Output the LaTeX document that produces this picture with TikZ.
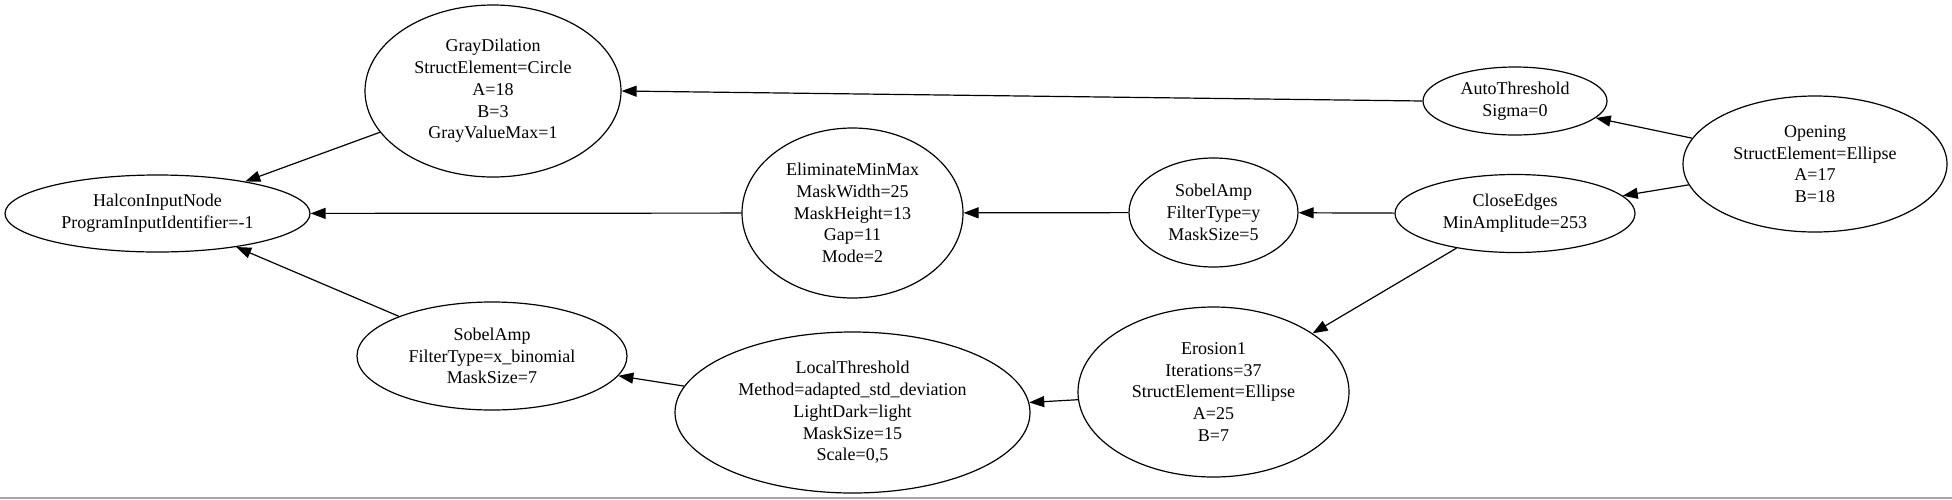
\documentclass[tikz,border=0pt]{standalone}
\usepackage{fontspec}
\setmainfont{Liberation Serif}
\usetikzlibrary{shapes.geometric,arrows.meta}
\begin{document}
\begin{tikzpicture}[x=1pt,y=-1pt,
  nd/.style={draw, ellipse, line width=1.2pt, inner sep=0pt, align=center,
             font=\fontsize{18}{21.7}\selectfont},
  ar/.style={line width=1.2pt, -{Triangle[length=15pt,width=11pt]}}]
\useasboundingbox (0,0) rectangle (1952,499);
\node[nd, minimum width=305pt, minimum height=77pt] (halcon) at (157.5,213.5)
  {HalconInputNode\\ProgramInputIdentifier=-1};
\node[nd, minimum width=256pt, minimum height=172pt] (gray) at (493,91)
  {GrayDilation\\StructElement=Circle\\A=18\\B=3\\GrayValueMax=1};
\node[nd, minimum width=221pt, minimum height=170pt] (elim) at (852.5,213)
  {EliminateMinMax\\MaskWidth=25\\MaskHeight=13\\Gap=11\\Mode=2};
\node[nd, minimum width=169pt, minimum height=109pt] (sobely) at (1213.5,212.5)
  {SobelAmp\\FilterType=y\\MaskSize=5};
\node[nd, minimum width=240pt, minimum height=78pt] (close) at (1515,213.5)
  {CloseEdges\\MinAmplitude=253};
\node[nd, minimum width=184pt, minimum height=68pt] (auto) at (1515,101)
  {AutoThreshold\\Sigma=0};
\node[nd, minimum width=264pt, minimum height=136pt] (opening) at (1815,164)
  {Opening\\StructElement=Ellipse\\A=17\\B=18};
\node[nd, minimum width=271pt, minimum height=170pt] (erosion) at (1213.5,392)
  {Erosion1\\Iterations=37\\StructElement=Ellipse\\A=25\\B=7};
\node[nd, minimum width=355pt, minimum height=161pt] (local) at (852.5,412.5)
  {LocalThreshold\\Method=adapted\_std\_deviation\\LightDark=light\\MaskSize=15\\Scale=0,5};
\node[nd, minimum width=270pt, minimum height=108pt] (sobelx) at (492,356)
  {SobelAmp\\FilterType=x\_binomial\\MaskSize=7};

\draw[ar] (gray) -- (halcon);
\draw[ar] (elim) -- (halcon);
\draw[ar] (sobelx) -- (halcon);
\draw[ar] (auto.west) -- (gray.east);
\draw[ar] (opening) -- (auto);
\draw[ar] (opening) -- (close);
\draw[ar] (close) -- (sobely);
\draw[ar] (sobely) -- (elim);
\draw[ar] (close) -- (erosion);
\draw[ar] (erosion) -- (local);
\draw[ar] (local) -- (sobelx);

\draw[gray!70, line width=2pt] (0,498) -- (1952,498);
\end{tikzpicture}
\end{document}
